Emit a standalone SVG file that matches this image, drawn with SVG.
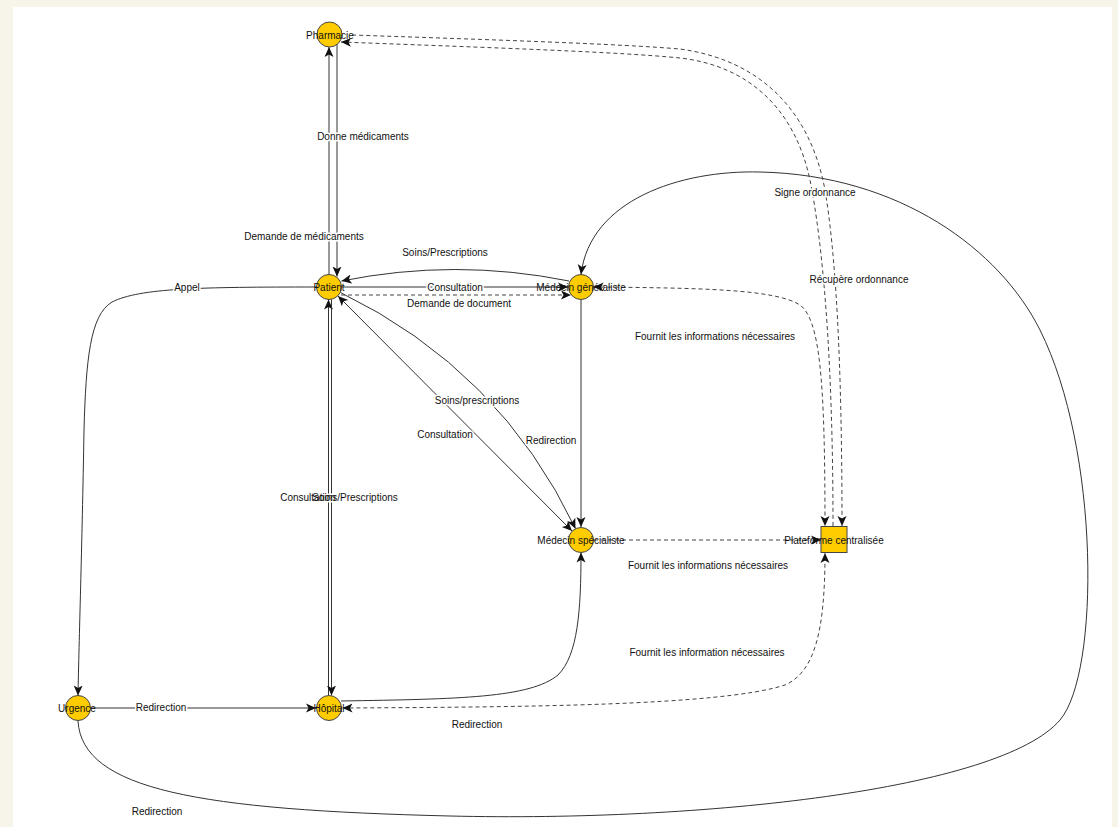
<svg xmlns="http://www.w3.org/2000/svg" width="1118" height="827" viewBox="0 0 1118 827">
<style>
.e{fill:none;stroke:#333;stroke-width:1}
.d{fill:none;stroke:#444;stroke-width:1;stroke-dasharray:4 3}
.n{fill:#FFCC00;stroke:#444;stroke-width:1}
text{font-family:"Liberation Sans",Arial,sans-serif;font-size:10px;fill:#111;text-anchor:middle}
.l{paint-order:stroke;stroke:#fff;stroke-width:3px;stroke-linejoin:round}
</style>
<defs>
<marker id="a" markerUnits="userSpaceOnUse" markerWidth="11" markerHeight="10" refX="10" refY="4.5" orient="auto-start-reverse" viewBox="0 0 11 9">
<path d="M0,0 L10,4.5 L0,9 L2.5,4.5 z" fill="#111"/>
</marker>
</defs>
<rect width="1118" height="827" fill="#F7F4EA"/>
<rect x="13" y="7" width="1099" height="820" fill="#fff"/>
<g id="connectors">
<path class="e" d="M329,274.5 L329,47" marker-end="url(#a)"/>
<path class="e" d="M337,44 L337,276.5" marker-end="url(#a)"/>
<path class="e" d="M569,281 Q455,258 341.5,281" marker-end="url(#a)"/>
<path class="e" d="M342,287 L568,287" marker-end="url(#a)"/>
<path class="d" d="M341,295 L571,295" marker-end="url(#a)"/>
<path class="e" d="M316.5,287 C200,287 140,288 112,302 C90,315 86,360 84,430 C82,550 79,640 78,695.5" marker-end="url(#a)"/>
<path class="e" d="M78,721 C82,790 200,810 450,816 C700,822 1000,790 1060,720 C1100,673 1100,450 1040,330 C1000,250 900,175 760,172 C680,170 590,200 581,274.5" marker-end="url(#a)"/>
<path class="e" d="M581,300 L581,527" marker-end="url(#a)"/>
<path class="e" d="M338,296 L572,531" marker-start="url(#a)" marker-end="url(#a)"/>
<path class="e" d="M340.5,292.5 Q500,370 575.5,528.7" marker-end="url(#a)"/>
<path class="e" d="M328.5,695.5 L328.5,299.5" marker-end="url(#a)"/>
<path class="e" d="M331.5,299.5 L331.5,695.5" marker-end="url(#a)"/>
<path class="e" d="M91,708 L316,708" marker-end="url(#a)"/>
<path class="e" d="M341,701 C460,699 530,698 558,675 C578,655 581,610 581,552.5" marker-end="url(#a)"/>
<path class="d" d="M342.5,708 C520,707 720,706 785,685 C815,672 825,630 825,553" marker-start="url(#a)" marker-end="url(#a)"/>
<path class="d" d="M594,540 L821,540" marker-end="url(#a)"/>
<path class="d" d="M593.5,287 C700,288 775,289 800,305 C820,320 825,380 825,526" marker-start="url(#a)" marker-end="url(#a)"/>
<path class="d" d="M352,35 C500,40 620,44 680,49 C760,60 810,110 825,190 C835,250 842,350 842,526" marker-end="url(#a)"/>
<path class="d" d="M833,526 C833,350 822,240 810,180 C795,110 750,66 680,58 C620,52 500,48 341,42" marker-end="url(#a)"/>
</g>
<g id="edge-labels">
<text class="l" x="363" y="140">Donne médicaments</text>
<text class="l" x="304" y="240">Demande de médicaments</text>
<text class="l" x="445" y="256">Soins/Prescriptions</text>
<text class="l" x="187" y="291">Appel</text>
<text class="l" x="455" y="291">Consultation</text>
<text class="l" x="459" y="307">Demande de document</text>
<text class="l" x="815" y="196">Signe ordonnance</text>
<text class="l" x="859" y="283">Récupère ordonnance</text>
<text class="l" x="715" y="340">Fournit les informations nécessaires</text>
<text class="l" x="477" y="404">Soins/prescriptions</text>
<text class="l" x="445" y="438">Consultation</text>
<text class="l" x="551" y="444">Redirection</text>
<text class="l" x="308" y="501">Consultation</text>
<text x="355" y="501">Soins/Prescriptions</text>
<text class="l" x="708" y="569">Fournit les informations nécessaires</text>
<text class="l" x="707" y="656">Fournit les information nécessaires</text>
<text class="l" x="161" y="711">Redirection</text>
<text class="l" x="477" y="728">Redirection</text>
<text class="l" x="157" y="815">Redirection</text>
</g>
<g id="pharmacie"><circle class="n" cx="329.5" cy="34.5" r="12.5"/><text x="330" y="38.5">Pharmacie</text></g>
<g id="patient"><circle class="n" cx="329" cy="287" r="12.5"/><text x="329" y="290.5">Patient</text></g>
<g id="medecin-generaliste"><circle class="n" cx="581" cy="287" r="12.5"/><text x="581" y="290.5">Médecin généraliste</text></g>
<g id="medecin-specialiste"><circle class="n" cx="581" cy="540" r="12.5"/><text x="581" y="543.5">Médecin spécialiste</text></g>
<g id="plateforme"><rect class="n" x="821" y="526.5" width="26" height="26"/><text x="834" y="543.5">Plateforme centralisée</text></g>
<g id="hopital"><circle class="n" cx="329" cy="708" r="12.5"/><text x="329" y="711.5">Hôpital</text></g>
<g id="urgence"><circle class="n" cx="78" cy="708" r="12.5"/><text x="77" y="711.5">Urgence</text></g>
</svg>
